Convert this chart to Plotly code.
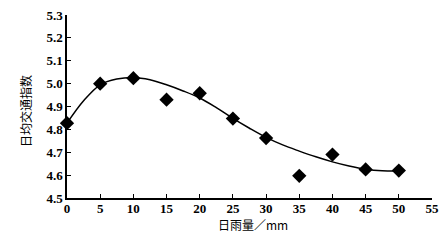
import plotly.graph_objects as go

# Observed data
rain_mm = [0, 5, 10, 15, 20, 25, 30, 35, 40, 45, 50]
traffic_index = [4.827, 5.000, 5.024, 4.930, 4.958, 4.847, 4.762, 4.597, 4.690, 4.625, 4.620]

# Fitted curve
curve_x = [0, 2.5, 5, 7.5, 10, 12.5, 15, 17.5, 20, 22.5, 25, 27.5, 30, 32.5, 35, 37.5, 40, 42.5, 45, 47.5, 50]
curve_y = [4.827, 4.925, 4.995, 5.020, 5.027, 5.017, 4.995, 4.968, 4.937, 4.895, 4.848, 4.805,
           4.765, 4.732, 4.705, 4.680, 4.658, 4.640, 4.626, 4.619, 4.618]

x_ticks = [0, 5, 10, 15, 20, 25, 30, 35, 40, 45, 50, 55]
y_ticks = [4.5, 4.6, 4.7, 4.8, 4.9, 5.0, 5.1, 5.2, 5.3]

x_title = "日雨量／mm"
y_title = "日均交通指数"

num_font = dict(family="Liberation Serif", size=13, color="black", weight="bold")
cjk_font = dict(family="Noto Sans CJK SC", size=12, color="black")

fig = go.Figure()
fig.add_trace(go.Scatter(x=curve_x, y=curve_y, mode="lines", line=dict(color="black", width=1.5, shape="spline"),
                         showlegend=False, hoverinfo="skip", cliponaxis=False))
fig.add_trace(go.Scatter(x=rain_mm, y=traffic_index, mode="markers", cliponaxis=False,
                         marker=dict(symbol="diamond", size=11, color="black"), showlegend=False))

fig.update_layout(
    width=448, height=242,
    margin=dict(l=67, r=16, t=15, b=44),
    paper_bgcolor="white", plot_bgcolor="white",
    xaxis=dict(range=[0, 55], tickvals=x_ticks, ticktext=[str(v) for v in x_ticks], automargin=False,
               showgrid=False, zeroline=False, showline=True, linecolor="black", linewidth=1.5,
               ticks="inside", ticklen=4, tickcolor="black", tickwidth=1.2, tickfont=num_font,
               ticklabelstandoff=-2),
    yaxis=dict(range=[4.5, 5.3], tickvals=y_ticks, ticktext=[f"{v:.1f}" for v in y_ticks], automargin=False,
               showgrid=False, zeroline=False, showline=True, linecolor="black", linewidth=1.5,
               ticks="inside", ticklen=4, tickcolor="black", tickwidth=1.2, tickfont=num_font),
    annotations=[
        dict(text=x_title, xref="paper", yref="paper", x=0.51, y=0, yshift=-26,
             xanchor="center", yanchor="middle", showarrow=False, font=cjk_font),
        dict(text=y_title, xref="paper", yref="paper", x=0, y=0.475, xshift=-42,
             xanchor="center", yanchor="middle", textangle=-90, showarrow=False, font=cjk_font),
    ],
)

fig.write_html("out.html", post_script="document.body.style.margin='0';",
               config={"displayModeBar": False})
